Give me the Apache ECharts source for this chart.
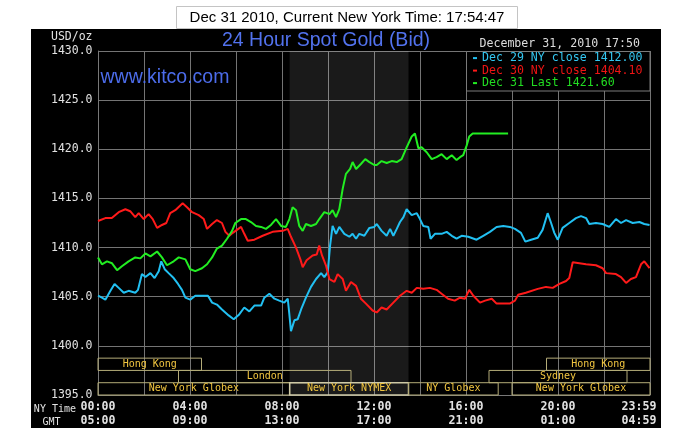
<!DOCTYPE html>
<html><head><meta charset="utf-8">
<script src="https://cdn.jsdelivr.net/npm/echarts@6/dist/echarts.min.js"></script>
<style>html,body{margin:0;padding:0;background:#fff}#c{width:685px;height:444px}</style>
</head><body><div id="c"></div>
<script>
// ---- data ----
const seriesNames = ['Dec 29 NY close 1412.00', 'Dec 30 NY close 1404.10', 'Dec 31 Last 1421.60'];
const seriesColors = ['#22c0f2', '#ff1a1a', '#22ee22'];
const legendColors = ['#33c6f0', '#ee1414', '#22dd22'];

// [NY hour, USD/oz]
const dec29 = [[0,1405.1],[0.17,1404.9],[0.32,1404.7],[0.54,1405.6],[0.72,1406.3],[0.9,1405.9],[1.12,1405.4],[1.33,1405.6],[1.62,1405.4],[1.74,1405.7],[1.91,1407.3],[2.06,1407.0],[2.28,1407.4],[2.46,1406.9],[2.64,1407.6],[2.75,1408.6],[2.9,1407.8],[3.07,1407.4],[3.29,1406.9],[3.48,1406.3],[3.65,1405.7],[3.8,1404.9],[4.01,1404.7],[4.23,1405.1],[4.52,1405.1],[4.78,1405.1],[4.96,1404.4],[5.17,1404.2],[5.39,1403.7],[5.68,1403.1],[5.9,1402.7],[6.14,1403.2],[6.36,1403.9],[6.58,1403.5],[6.8,1404.1],[7.09,1404.1],[7.23,1404.9],[7.45,1405.3],[7.67,1404.8],[7.88,1404.6],[8.1,1404.4],[8.25,1404.8],[8.32,1403.2],[8.39,1401.5],[8.54,1402.6],[8.68,1402.7],[8.83,1403.7],[9.04,1404.9],[9.26,1406.0],[9.48,1406.8],[9.7,1407.4],[9.84,1407.0],[9.99,1407.5],[10.09,1410.2],[10.2,1412.2],[10.35,1411.4],[10.49,1412.1],[10.71,1411.4],[10.93,1411.1],[11.07,1411.4],[11.22,1410.9],[11.36,1411.4],[11.58,1411.2],[11.8,1412.0],[12.01,1412.1],[12.12,1412.4],[12.33,1411.7],[12.55,1411.2],[12.7,1411.9],[12.84,1411.2],[12.99,1411.9],[13.13,1412.6],[13.28,1413.1],[13.42,1413.9],[13.64,1413.3],[13.86,1413.5],[14.0,1412.9],[14.14,1412.2],[14.36,1412.1],[14.46,1410.9],[14.65,1411.4],[14.94,1411.4],[15.16,1411.6],[15.38,1411.2],[15.59,1410.9],[15.81,1411.2],[16.1,1411.1],[16.46,1410.8],[16.75,1411.2],[17.04,1411.6],[17.33,1412.1],[17.62,1412.2],[17.91,1412.1],[18.13,1411.9],[18.39,1411.5],[18.58,1410.6],[18.83,1410.8],[19.12,1411.0],[19.33,1411.8],[19.55,1413.5],[19.7,1412.5],[19.84,1411.5],[19.99,1410.8],[20.2,1412.0],[20.49,1412.5],[20.78,1413.0],[21.0,1413.2],[21.22,1413.0],[21.36,1412.4],[21.65,1412.5],[21.94,1412.4],[22.23,1412.1],[22.52,1412.9],[22.74,1412.5],[22.96,1412.8],[23.25,1412.5],[23.54,1412.6],[23.75,1412.4],[23.98,1412.3]];

const dec30 = [[0,1412.7],[0.32,1413.0],[0.6,1413.0],[0.9,1413.6],[1.19,1413.9],[1.4,1413.7],[1.62,1413.1],[1.77,1413.5],[1.99,1412.9],[2.2,1413.4],[2.38,1412.9],[2.57,1412.0],[2.78,1412.3],[2.97,1412.5],[3.14,1413.5],[3.36,1413.8],[3.68,1414.5],[3.87,1414.1],[4.09,1413.6],[4.38,1413.3],[4.6,1412.9],[4.74,1411.9],[4.96,1412.4],[5.17,1412.8],[5.39,1412.5],[5.54,1411.6],[5.71,1411.2],[5.86,1411.5],[6.22,1412.1],[6.36,1411.4],[6.51,1410.7],[6.8,1410.8],[7.16,1411.2],[7.59,1411.6],[8.03,1411.7],[8.25,1411.9],[8.39,1411.1],[8.61,1410.0],[8.8,1408.8],[8.9,1408.0],[9.07,1408.7],[9.33,1409.2],[9.51,1409.3],[9.62,1410.2],[9.74,1409.2],[9.91,1408.2],[10.06,1406.8],[10.28,1406.5],[10.42,1407.3],[10.64,1406.8],[10.78,1405.6],[11.0,1406.5],[11.22,1406.1],[11.43,1404.8],[11.65,1404.3],[11.94,1403.6],[12.12,1403.4],[12.33,1403.9],[12.55,1403.7],[12.84,1404.4],[13.13,1405.1],[13.42,1405.6],[13.64,1405.4],[13.86,1405.9],[14.14,1405.8],[14.43,1405.9],[14.72,1405.7],[14.94,1405.3],[15.22,1404.8],[15.51,1404.6],[15.74,1404.9],[15.96,1404.8],[16.14,1405.7],[16.32,1405.1],[16.61,1404.4],[16.83,1404.6],[17.12,1404.8],[17.33,1404.3],[17.62,1404.3],[17.9,1404.3],[18.13,1404.6],[18.27,1405.2],[18.6,1405.4],[19.12,1405.8],[19.48,1406.0],[19.77,1405.9],[20.06,1406.3],[20.35,1406.6],[20.49,1406.9],[20.64,1408.5],[20.93,1408.4],[21.22,1408.3],[21.65,1408.2],[21.94,1407.9],[22.09,1407.4],[22.52,1407.3],[22.74,1407.0],[22.96,1406.4],[23.17,1406.8],[23.39,1407.0],[23.61,1408.3],[23.75,1408.6],[23.98,1407.9]];

const dec31 = [[0,1409.0],[0.17,1408.3],[0.39,1408.6],[0.61,1408.4],[0.83,1407.7],[1.04,1408.1],[1.33,1408.6],[1.62,1409.0],[1.84,1408.9],[2.06,1409.4],[2.28,1409.1],[2.57,1409.6],[2.78,1409.0],[3.0,1408.2],[3.29,1408.6],[3.51,1409.0],[3.8,1408.8],[4.01,1407.8],[4.23,1407.6],[4.52,1407.9],[4.74,1408.3],[4.96,1409.0],[5.17,1409.9],[5.39,1410.2],[5.61,1410.9],[5.83,1411.7],[5.97,1412.5],[6.22,1412.9],[6.43,1412.9],[6.65,1412.6],[6.87,1412.2],[7.09,1412.1],[7.3,1411.9],[7.52,1412.3],[7.74,1412.9],[7.96,1412.2],[8.17,1412.1],[8.32,1412.9],[8.46,1414.1],[8.61,1413.8],[8.75,1412.2],[8.9,1411.7],[9.04,1412.4],[9.26,1412.2],[9.48,1412.4],[9.62,1412.9],[9.84,1413.6],[10.06,1413.4],[10.2,1413.8],[10.35,1413.1],[10.49,1413.9],[10.64,1416.0],[10.78,1417.5],[10.96,1418.0],[11.07,1418.7],[11.22,1418.0],[11.43,1418.5],[11.62,1419.0],[11.8,1418.7],[12.01,1418.4],[12.12,1418.4],[12.33,1418.8],[12.55,1418.6],[12.77,1418.8],[12.99,1418.7],[13.2,1419.0],[13.42,1420.2],[13.64,1421.3],[13.78,1421.6],[13.93,1420.1],[14.07,1420.2],[14.29,1419.7],[14.51,1419.0],[14.72,1419.2],[14.94,1419.5],[15.16,1419.0],[15.38,1419.4],[15.59,1418.9],[15.74,1419.2],[15.88,1419.4],[16.03,1420.4],[16.14,1421.3],[16.29,1421.6],[17.83,1421.6]];

const tickHours = [0, 4, 8, 12, 16, 20, 24];
const nyTimeLabels = ['00:00', '04:00', '08:00', '12:00', '16:00', '20:00', '23:59'];
const gmtLabels = ['05:00', '09:00', '13:00', '17:00', '21:00', '01:00', '04:59'];

// NYMEX pit session (shaded)
const nymexShade = [8.333, 13.5];

// market session bars: name, start hour, end hour, row (0 = top)
const sessionNames = ['Hong Kong', 'Hong Kong', 'London', 'Sydney', 'New York Globex', 'New York NYMEX', 'NY Globex', 'New York Globex'];
const sessionStart = [0, 19.5, 3.5, 17.0, 0, 8.333, 13.5, 18.0];
const sessionEnd = [4.5, 24, 11.0, 23.0, 8.333, 13.5, 17.4, 24];
const sessionRow = [0, 0, 1, 1, 2, 2, 2, 2];

// ---- chart ----
const MONO = 'DejaVu Sans Mono';
const SANS = 'Liberation Sans';
const rowH = 1.25, rowTop = 1398.75;

const bandAreas = sessionNames.map((n, i) => {
  const top = rowTop - sessionRow[i] * rowH;
  const isPit = n === 'New York NYMEX';
  return [
    { name: n, xAxis: sessionStart[i], yAxis: top,
      itemStyle: { color: 'rgba(0,0,0,0)', borderColor: isPit ? '#cfcaa6' : '#b4ac78', borderWidth: isPit ? 1.5 : 1 } },
    { xAxis: sessionEnd[i], yAxis: top - rowH }
  ];
});

const chart = echarts.init(document.getElementById('c'), null, { renderer: 'canvas' });
const axisTxt = '#e2e2e2';

chart.setOption({
  animation: false,
  backgroundColor: '#ffffff',
  graphic: { elements: [
    { type: 'rect', z: -10, shape: { x: 31, y: 29, width: 630, height: 399 }, style: { fill: '#000' } },
    { type: 'rect', z: -10, shape: { x: 176.5, y: 6.5, width: 341, height: 22 }, style: { fill: '#fff', stroke: '#c4c4c4', lineWidth: 1 } },
    { type: 'rect', z: 8, shape: { x: 466.5, y: 51.5, width: 183.5, height: 39.5 }, style: { fill: '#000', stroke: '#7a7a7a', lineWidth: 1 } }
  ]},
  title: [
    { text: 'Dec 31 2010, Current New York Time: 17:54:47', left: 347, top: 17.5, textAlign: 'center', textVerticalAlign: 'middle', padding: 0,
      textStyle: { fontFamily: SANS, fontSize: 15, fontWeight: 'normal', color: '#000' } },
    { text: '24 Hour Spot Gold (Bid)', left: 326, top: 40.5, textAlign: 'center', textVerticalAlign: 'middle', padding: 0,
      textStyle: { fontFamily: SANS, fontSize: 19.5, fontWeight: 'normal', color: '#5272ee' } },
    { text: 'www.kitco.com', left: 100.5, top: 78, textAlign: 'left', textVerticalAlign: 'middle', padding: 0,
      textStyle: { fontFamily: SANS, fontSize: 19.5, fontWeight: 'normal', color: '#4c6cea' } },
    { text: 'December 31, 2010 17:50', left: 640, top: 43.5, textAlign: 'right', textVerticalAlign: 'middle', padding: 0,
      textStyle: { fontFamily: MONO, fontSize: 11.6, fontWeight: 'normal', color: '#dcdcdc' } },
    { text: 'USD/oz', left: 92.5, top: 37, textAlign: 'right', textVerticalAlign: 'middle', padding: 0,
      textStyle: { fontFamily: MONO, fontSize: 11.5, fontWeight: 'normal', color: axisTxt } },
    { text: 'NY Time', left: 76, top: 409, textAlign: 'right', textVerticalAlign: 'middle', padding: 0,
      textStyle: { fontFamily: MONO, fontSize: 10, fontWeight: 'normal', color: axisTxt } },
    { text: 'GMT', left: 51.5, top: 422, textAlign: 'center', textVerticalAlign: 'middle', padding: 0,
      textStyle: { fontFamily: MONO, fontSize: 10, fontWeight: 'normal', color: axisTxt } }
  ],
  legend: {
    show: true, left: 473, top: 52, orient: 'vertical', icon: 'rect', itemWidth: 4, itemHeight: 2, itemGap: 0.3,
    padding: 0, selectedMode: false, z: 10,
    textStyle: { fontFamily: MONO, fontSize: 11.6, lineHeight: 12.2 },
    data: seriesNames.map((n, i) => ({ name: n, textStyle: { color: legendColors[i] } }))
  },
  grid: { left: 98, right: 35, top: 51, bottom: 49, containLabel: false },
  xAxis: {
    type: 'value', min: 0, max: 24, interval: 2,
    axisLine: { show: true, lineStyle: { color: '#787878', width: 1 } },
    axisTick: { show: false },
    splitLine: { show: true, lineStyle: { color: '#747474', width: 1 } },
    axisLabel: {
      show: true, showMinLabel: true, showMaxLabel: true, margin: 5,
      fontFamily: MONO, fontSize: 11.6, fontWeight: 'bold', color: axisTxt, lineHeight: 14,
      formatter: (v) => {
        const i = tickHours.indexOf(v);
        if (i < 0) return '';
        if (v === 24) return '{r|' + nyTimeLabels[i] + '}\n{r|' + gmtLabels[i] + '}';
        return nyTimeLabels[i] + '\n' + gmtLabels[i];
      },
      rich: { r: { fontFamily: MONO, fontSize: 11.6, fontWeight: 'bold', color: axisTxt, lineHeight: 14, padding: [0, 22, 0, 0] } }
    }
  },
  yAxis: {
    type: 'value', min: 1395, max: 1430, interval: 5,
    axisLine: { show: true, lineStyle: { color: '#787878', width: 1 } },
    axisTick: { show: false },
    splitLine: { show: true, lineStyle: { color: '#747474', width: 1 } },
    axisLabel: { margin: 5.5, fontFamily: MONO, fontSize: 11.5, color: axisTxt, formatter: (v) => v.toFixed(1) }
  },
  series: [
    { name: seriesNames[0], type: 'line', data: dec29, showSymbol: false, symbol: 'none',
      lineStyle: { width: 2, color: seriesColors[0] }, itemStyle: { color: seriesColors[0] },
      markArea: { silent: true, itemStyle: { color: 'rgba(255,255,255,0.1)' },
        data: [[{ xAxis: nymexShade[0] }, { xAxis: nymexShade[1] }]] } },
    { name: seriesNames[1], type: 'line', data: dec30, showSymbol: false, symbol: 'none',
      lineStyle: { width: 2, color: seriesColors[1] }, itemStyle: { color: seriesColors[1] },
      markArea: { silent: true,
        label: { show: true, position: 'inside', fontFamily: MONO, fontSize: 10, color: '#f2c640' },
        data: bandAreas } },
    { name: seriesNames[2], type: 'line', data: dec31, showSymbol: false, symbol: 'none',
      lineStyle: { width: 2, color: seriesColors[2] }, itemStyle: { color: seriesColors[2] } }
  ]
});
</script>
</body></html>
